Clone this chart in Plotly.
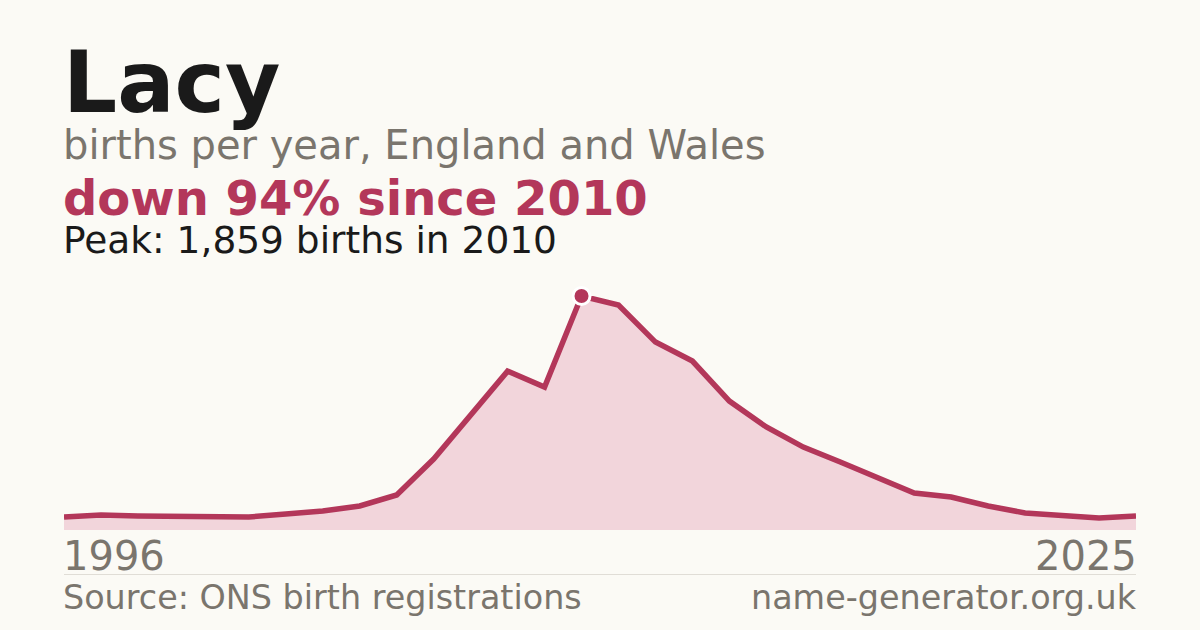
import plotly.graph_objects as go

years = list(range(1996, 2026))
births = [103, 119, 111, 111, 103, 103, 127, 151, 191, 278,
          564, 913, 1262, 1135, 1859, 1787, 1493, 1342, 1024, 818,
          659, 540, 413, 294, 262, 191, 135, 119, 95, 111]

name = "Lacy"
subtitle = "births per year, England and Wales"
change_text = "down 94% since 2010"
peak_year = years[births.index(max(births))]
peak_val = max(births)

bg = "#fbfaf5"
red = "#b3375a"
fill = "#f2d5db"
grey = "#7a756d"
font = "DejaVu Sans"

# plot area: y=0 at 530px, peak at 296px
top, bottom = 296, 530
ph = bottom - top


def py(pix):
    # pixel row -> paper y
    return (bottom - pix) / ph


fig = go.Figure()

fig.add_trace(go.Scatter(
    x=years, y=births, mode="lines",
    line=dict(color=red, width=5.5),
    fill="tozeroy", fillcolor=fill,
    hoverinfo="skip"))

fig.add_trace(go.Scatter(
    x=[peak_year], y=[peak_val], mode="markers",
    marker=dict(size=17, color=red, line=dict(color="white", width=3)),
    cliponaxis=False, hoverinfo="skip"))

annos = [
    dict(text="<b>" + name + "</b>", size=85, color="#1a1a1a", y=83),
    dict(text=subtitle, size=40, color=grey, y=145),
    dict(text="<b>" + change_text + "</b>", size=48, color=red, y=198),
    dict(text="Peak: {:,} births in {}".format(peak_val, peak_year), size=37.5, color="#1a1a1a", y=240),
    dict(text="Source: ONS birth registrations", size=33.4, color=grey, y=597.5),
]
for a in annos:
    fig.add_annotation(text=a["text"], xref="paper", yref="paper", x=0, y=py(a["y"]),
                       xanchor="left", yanchor="middle", showarrow=False, xshift=-3,
                       font=dict(family=font, size=a["size"], color=a["color"]))

fig.add_annotation(text="name-generator.org.uk", xref="paper", yref="paper", x=1, y=py(597.5),
                   xanchor="right", yanchor="middle", showarrow=False, xshift=3,
                   font=dict(family=font, size=33.4, color=grey))

fig.add_annotation(text=str(years[0]), xref="x", yref="paper", x=years[0], y=py(556),
                   xanchor="left", yanchor="middle", showarrow=False, xshift=-3,
                   font=dict(family=font, size=40, color=grey))
fig.add_annotation(text=str(years[-1]), xref="x", yref="paper", x=years[-1], y=py(556),
                   xanchor="right", yanchor="middle", showarrow=False, xshift=3,
                   font=dict(family=font, size=40, color=grey))

fig.add_shape(type="line", xref="paper", yref="paper", x0=0, x1=1, y0=py(574.5), y1=py(574.5),
              line=dict(color="#e0ddd6", width=1))

fig.update_layout(
    width=1200, height=630,
    margin=dict(l=64, r=64, t=top, b=630 - bottom),
    paper_bgcolor=bg, plot_bgcolor=bg,
    showlegend=False,
    xaxis=dict(range=[years[0], years[-1]], visible=False, fixedrange=True),
    yaxis=dict(range=[0, peak_val], visible=False, fixedrange=True),
)

fig.write_html("out.html", config={"displayModeBar": False},
               post_script="document.body.style.margin='0';document.body.style.overflow='hidden';")
